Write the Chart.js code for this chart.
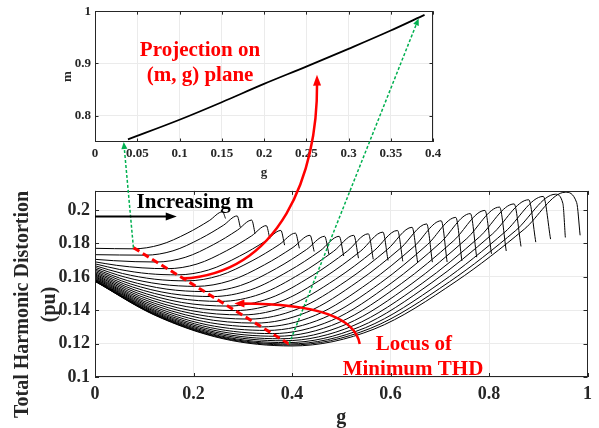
<!DOCTYPE html>
<html>
<head>
<meta charset="utf-8">
<script src="https://cdn.jsdelivr.net/npm/chart.js@4/dist/chart.umd.min.js"></script>
<style>
  html, body { margin: 0; padding: 0; background: #fff; }
  #page { position: relative; width: 599px; height: 428px; overflow: hidden; }
  #mainBox { position: absolute; left: 0; top: 176px; width: 599px; height: 252px; }
  #insetBox { position: absolute; left: 0; top: 0; width: 599px; height: 182px; }
  #overlay { position: absolute; left: 0; top: 0; pointer-events: none; }
</style>
</head>
<body>
<div id="page">
  <div id="mainBox"><canvas id="mainChart" width="599" height="252"></canvas></div>
  <div id="insetBox"><canvas id="insetChart" width="599" height="182"></canvas></div>
  <canvas id="overlay" width="599" height="428"></canvas>
</div>
<script>
// ---------- data ----------
const mainXTicks = [0, 0.2, 0.4, 0.6, 0.8, 1];
const mainXLabels = ['0', '0.2', '0.4', '0.6', '0.8', '1'];
const mainYTicks = [0.1, 0.12, 0.14, 0.16, 0.18, 0.2];
const mainYLabels = ['0.1', '0.12', '0.14', '0.16', '0.18', '0.2'];
const insetXTicks = [0, 0.05, 0.1, 0.15, 0.2, 0.25, 0.3, 0.35, 0.4];
const insetXLabels = ['0', '0.05', '0.1', '0.15', '0.2', '0.25', '0.3', '0.35', '0.4'];
const insetYTicks = [0.8, 0.9, 1];
const insetYLabels = ['0.8', '0.9', '1'];
const mainYTitle = ['Total Harmonic Distortion', '(pu)'];

// THD (pu) vs g, one curve per m value, lowest m first: [g, thd]
const thd01 = [[0,0.1771],[0.04,0.1769],[0.078,0.1768],[0.132,0.1792],[0.187,0.1861],[0.232,0.1937],[0.259,0.1990],[0.265,0.1950]];
const thd02 = [[0,0.1733],[0.05,0.1731],[0.1025,0.1730],[0.1583,0.1756],[0.2142,0.1829],[0.2607,0.1909],[0.2886,0.1965],[0.295,0.1897]];
const thd03 = [[0,0.1705],[0.0376,0.1697],[0.0814,0.1691],[0.1253,0.1689],[0.1832,0.1717],[0.2410,0.1794],[0.2893,0.1880],[0.3182,0.1940],[0.325,0.1860]];
const thd04 = [[0,0.1690],[0.0441,0.1669],[0.0955,0.1654],[0.1469,0.1649],[0.2072,0.1677],[0.2674,0.1757],[0.3177,0.1845],[0.3478,0.1907],[0.355,0.1829]];
const thd05 = [[0,0.1678],[0.0502,0.1644],[0.1088,0.1619],[0.1674,0.1612],[0.2304,0.1641],[0.2934,0.1724],[0.3459,0.1814],[0.3774,0.1878],[0.385,0.1790]];
const thd06 = [[0,0.1667],[0.0560,0.1620],[0.1214,0.1586],[0.1868,0.1576],[0.2529,0.1608],[0.3189,0.1696],[0.3740,0.1793],[0.407,0.1862],[0.415,0.1771]];
const thd07 = [[0,0.1657],[0.0615,0.1598],[0.1333,0.1556],[0.2050,0.1543],[0.2745,0.1577],[0.3440,0.1672],[0.4019,0.1776],[0.4366,0.1849],[0.445,0.1752]];
const thd08 = [[0,0.1648],[0.0666,0.1577],[0.1444,0.1527],[0.2221,0.1512],[0.2953,0.1548],[0.3686,0.1651],[0.4296,0.1764],[0.4662,0.1843],[0.475,0.1735]];
const thd09 = [[0,0.1640],[0.0716,0.1558],[0.1551,0.1499],[0.2386,0.1482],[0.3158,0.1522],[0.3929,0.1634],[0.4572,0.1756],[0.4958,0.1843],[0.505,0.1725]];
const thd10 = [[0,0.1632],[0.0764,0.1539],[0.1655,0.1473],[0.2546,0.1453],[0.3358,0.1497],[0.4171,0.1619],[0.4848,0.1754],[0.5254,0.1849],[0.535,0.1712]];
const thd11 = [[0,0.1625],[0.081,0.1521],[0.1755,0.1447],[0.2700,0.1425],[0.3555,0.1473],[0.441,0.1607],[0.5123,0.1754],[0.555,0.1858],[0.565,0.1705]];
const thd12 = [[0,0.1618],[0.0854,0.1504],[0.1851,0.1422],[0.2847,0.1398],[0.3747,0.1450],[0.4646,0.1595],[0.5396,0.1755],[0.5846,0.1868],[0.595,0.1698]];
const thd13 = [[0,0.1612],[0.0897,0.1487],[0.1944,0.1398],[0.2990,0.1372],[0.3936,0.1428],[0.4881,0.1585],[0.5669,0.1757],[0.6142,0.1878],[0.625,0.1693]];
const thd14 = [[0,0.1606],[0.0938,0.1471],[0.2033,0.1376],[0.3127,0.1347],[0.4120,0.1408],[0.5114,0.1578],[0.5941,0.1765],[0.6438,0.1897],[0.655,0.1689]];
const thd15 = [[0,0.1601],[0.0977,0.1456],[0.2118,0.1354],[0.3258,0.1323],[0.4301,0.1388],[0.5344,0.1573],[0.6213,0.1774],[0.6734,0.1917],[0.685,0.1688]];
const thd16 = [[0,0.1596],[0.1015,0.1442],[0.2199,0.1333],[0.3383,0.1300],[0.4477,0.1370],[0.5571,0.1567],[0.6483,0.1783],[0.703,0.1936],[0.715,0.1689]];
const thd17 = [[0,0.1591],[0.1049,0.1429],[0.2273,0.1313],[0.3497,0.1279],[0.4646,0.1354],[0.5794,0.1563],[0.6752,0.1794],[0.7326,0.1956],[0.745,0.1695]];
const thd18 = [[0,0.1587],[0.1080,0.1417],[0.2339,0.1296],[0.3599,0.1260],[0.4806,0.1339],[0.6013,0.1562],[0.7019,0.1806],[0.7622,0.1979],[0.775,0.1718]];
const thd19 = [[0,0.1583],[0.1107,0.1407],[0.2399,0.1281],[0.3690,0.1244],[0.4958,0.1327],[0.6227,0.1561],[0.7284,0.1817],[0.7918,0.1998],[0.805,0.1738]];
const thd20 = [[0,0.1580],[0.1131,0.1398],[0.2451,0.1268],[0.3770,0.1229],[0.5103,0.1316],[0.6436,0.1560],[0.7547,0.1829],[0.8214,0.2018],[0.835,0.1755]];
const thd21 = [[0,0.1578],[0.1152,0.1390],[0.2495,0.1257],[0.3839,0.1217],[0.5240,0.1307],[0.6642,0.1561],[0.7809,0.1840],[0.851,0.2037],[0.865,0.1782]];
const thd22 = [[0,0.1576],[0.1169,0.1384],[0.2532,0.1247],[0.3896,0.1206],[0.5369,0.1300],[0.6842,0.1566],[0.8070,0.1857],[0.8806,0.2062],[0.895,0.1808]];
const thd23 = [[0,0.1575],[0.1182,0.1379],[0.2562,0.1240],[0.3941,0.1198],[0.5489,0.1295],[0.7038,0.1569],[0.8328,0.1870],[0.9102,0.2082],[0.925,0.1826]];
const thd24 = [[0,0.1574],[0.1193,0.1375],[0.2584,0.1234],[0.3975,0.1192],[0.5588,0.1291],[0.72,0.1571],[0.8544,0.1878],[0.935,0.2095],[0.950,0.2040],[0.955,0.1836]];
const thd25 = [[0,0.1573],[0.1201,0.1372],[0.2602,0.1229],[0.4003,0.1186],[0.5667,0.1287],[0.7331,0.1573],[0.8718,0.1886],[0.955,0.2107],[0.978,0.2045],[0.985,0.1849]];
const thdCurves = [thd01, thd02, thd03, thd04, thd05, thd06, thd07, thd08, thd09, thd10,
  thd11, thd12, thd13, thd14, thd15, thd16, thd17, thd18, thd19, thd20,
  thd21, thd22, thd23, thd24, thd25];

// locus of minimum THD
const locusG = [0.078, 0.394];
const locusThd = [0.1775, 0.1198];

// projection on the (m, g) plane
const projG = [0.039, 0.1, 0.15, 0.2, 0.25, 0.3, 0.35, 0.39];
const projM = [0.755, 0.7925, 0.826, 0.861, 0.894, 0.928, 0.963, 0.993];

// ---------- annotation anchors (data units) ----------
const greenFromA = [0.078, 0.1775], greenToA = [0.034, 0.75];    // main -> inset
const greenFromB = [0.394, 0.1198], greenToB = [0.383, 0.986];   // main -> inset
const projArrowMain = [[0.1785, 0.159], [0.3753, 0.1625], [0.4523, 0.2208]]; // start + 2 controls (main)
const projArrowTip = [0.2627, 0.8787];                          // tip (inset)
const locusArrow = [[0.5375, 0.1198], [0.5274, 0.1374], [0.4361, 0.1439], [0.283, 0.1441]];
const incArrow = [[0, 0.1962], [0.166, 0.1962]];

// ---------- styling ----------
const FONT = '"Liberation Serif", "Times New Roman", serif';
const INK = '#262626';
const GRID = '#ebebeb';
const RED = '#ff0000';
const GREEN = '#00b050';

function setTicks(values) {
  return scale => { scale.ticks = values.map(v => ({ value: v })); };
}
function bold(size, lh) {
  return { family: FONT, size: size, weight: 'bold', lineHeight: lh || 1.1 };
}

// box round the plot plus inward tick marks on all four sides
const framePlugin = {
  id: 'frame',
  afterDatasetsDraw(chart, args, opts) {
    const { ctx, chartArea: a, scales } = chart;
    const len = opts.tick || 4;
    ctx.save();
    ctx.strokeStyle = INK;
    ctx.lineWidth = 1;
    ctx.beginPath();
    scales.x.ticks.forEach(t => {
      const x = Math.round(scales.x.getPixelForValue(t.value)) + 0.5;
      ctx.moveTo(x, a.bottom); ctx.lineTo(x, a.bottom - len);
      ctx.moveTo(x, a.top); ctx.lineTo(x, a.top + len);
    });
    scales.y.ticks.forEach(t => {
      const y = Math.round(scales.y.getPixelForValue(t.value)) + 0.5;
      ctx.moveTo(a.left, y); ctx.lineTo(a.left + len, y);
      ctx.moveTo(a.right, y); ctx.lineTo(a.right - len, y);
    });
    ctx.stroke();
    ctx.strokeRect(Math.round(a.left) + 0.5, Math.round(a.top) + 0.5,
      Math.round(a.right - a.left) - 1, Math.round(a.bottom - a.top) - 1);
    ctx.restore();
  }
};

// ---------- main chart ----------
const mainDatasets = [{
  data: locusG.map((g, i) => ({ x: g, y: locusThd[i] })),
  borderColor: RED, borderWidth: 3, borderDash: [7, 4], pointRadius: 0
}].concat(thdCurves.map(c => ({
  data: c.map(p => ({ x: p[0], y: p[1] })),
  borderColor: '#000', borderWidth: 1, pointRadius: 0,
  cubicInterpolationMode: 'monotone'
})));

const mainChart = new Chart(document.getElementById('mainChart'), {
  type: 'line',
  data: { datasets: mainDatasets },
  options: {
    responsive: false,
    animation: false,
    events: [],
    layout: { padding: { left: 0, right: 11, top: 10, bottom: 0 } },
    plugins: { legend: { display: false }, tooltip: { enabled: false }, frame: { tick: 4 } },
    scales: {
      x: {
        type: 'linear', min: 0, max: 1,
        afterBuildTicks: setTicks(mainXTicks),
        afterFit: s => { s.height = 51; },
        grid: { color: GRID, drawTicks: false },
        border: { display: false },
        ticks: { callback: (v, i) => mainXLabels[i], font: bold(18), color: INK, padding: 7, maxRotation: 0, autoSkip: false },
        title: { display: true, text: 'g', color: INK, font: bold(20, 1.2), padding: { top: 0, bottom: -2 } }
      },
      y: {
        type: 'linear', min: 0.1, max: 0.2115,
        afterBuildTicks: setTicks(mainYTicks),
        afterFit: s => { s.width = 95; },
        grid: { color: GRID, drawTicks: false },
        border: { display: false },
        ticks: { callback: (v, i) => mainYLabels[i], font: bold(18), color: INK, padding: 5, autoSkip: false },
        title: { display: false }
      }
    }
  },
  plugins: [framePlugin]
});

// ---------- inset chart ----------
const insetChart = new Chart(document.getElementById('insetChart'), {
  type: 'line',
  data: {
    datasets: [{
      data: projG.map((g, i) => ({ x: g, y: projM[i] })),
      borderColor: '#000', borderWidth: 1.8, pointRadius: 0,
      cubicInterpolationMode: 'monotone'
    }]
  },
  options: {
    responsive: false,
    animation: false,
    events: [],
    layout: { padding: { left: 0, right: 166, top: 8, bottom: 0 } },
    plugins: { legend: { display: false }, tooltip: { enabled: false }, frame: { tick: 3.5 } },
    scales: {
      x: {
        type: 'linear', min: 0, max: 0.4,
        afterBuildTicks: setTicks(insetXTicks),
        afterFit: s => { s.height = 40; },
        grid: { color: GRID, drawTicks: false },
        border: { display: false },
        ticks: { callback: (v, i) => insetXLabels[i], font: bold(13), color: INK, padding: 4, maxRotation: 0, autoSkip: false },
        title: { display: true, text: 'g', color: INK, font: bold(13, 1.2), padding: { top: 0, bottom: 2 } }
      },
      y: {
        type: 'linear', min: 0.75, max: 1,
        afterBuildTicks: setTicks(insetYTicks),
        afterFit: s => { s.width = 95; },
        grid: { color: GRID, drawTicks: false },
        border: { display: false },
        ticks: { callback: (v, i) => insetYLabels[i], font: bold(13), color: INK, padding: 4, autoSkip: false },
        title: { display: true, text: 'm', color: INK, font: bold(13, 1.2), padding: { top: 60, bottom: 0 } }
      }
    }
  },
  plugins: [framePlugin]
});

// ---------- overlay: arrows and notes ----------
const mainTop = document.getElementById('mainBox').offsetTop;
const insetTop = document.getElementById('insetBox').offsetTop;
function onMain(p) {
  return [mainChart.scales.x.getPixelForValue(p[0]), mainTop + mainChart.scales.y.getPixelForValue(p[1])];
}
function onInset(p) {
  return [insetChart.scales.x.getPixelForValue(p[0]), insetTop + insetChart.scales.y.getPixelForValue(p[1])];
}

const ov = document.getElementById('overlay').getContext('2d');

function head(tip, from, len, half, color) {
  const ang = Math.atan2(tip[1] - from[1], tip[0] - from[0]);
  const c = Math.cos(ang), s = Math.sin(ang);
  ov.save();
  ov.setLineDash([]);
  ov.fillStyle = color;
  ov.beginPath();
  ov.moveTo(tip[0], tip[1]);
  ov.lineTo(tip[0] - len * c + half * s, tip[1] - len * s - half * c);
  ov.lineTo(tip[0] - len * c - half * s, tip[1] - len * s + half * c);
  ov.closePath();
  ov.fill();
  ov.restore();
}
function back(tip, from, len) {
  const d = Math.hypot(tip[0] - from[0], tip[1] - from[1]);
  return [tip[0] - (tip[0] - from[0]) * len / d, tip[1] - (tip[1] - from[1]) * len / d];
}

function straightArrow(a, b, color, width, dash, len, half) {
  const end = back(b, a, len * 0.8);
  ov.save();
  ov.strokeStyle = color;
  ov.lineWidth = width;
  ov.setLineDash(dash);
  ov.beginPath();
  ov.moveTo(a[0], a[1]);
  ov.lineTo(end[0], end[1]);
  ov.stroke();
  ov.restore();
  head(b, a, len, half, color);
}

function curvedArrow(p0, p1, p2, p3, color, width, len, half) {
  const end = back(p3, p2, len * 0.8);
  ov.save();
  ov.strokeStyle = color;
  ov.lineWidth = width;
  ov.beginPath();
  ov.moveTo(p0[0], p0[1]);
  ov.bezierCurveTo(p1[0], p1[1], p2[0], p2[1], end[0], end[1]);
  ov.stroke();
  ov.restore();
  head(p3, p2, len, half, color);
}

// green dotted projections
straightArrow(onMain(greenFromA), onInset(greenToA), GREEN, 1.5, [3, 2], 7, 3);
straightArrow(onMain(greenFromB), onInset(greenToB), GREEN, 1.5, [3, 2], 7, 3);

// red projection arrow
curvedArrow(onMain(projArrowMain[0]), onMain(projArrowMain[1]), onMain(projArrowMain[2]),
  onInset(projArrowTip), RED, 2.5, 11, 4);

// red locus arrow
curvedArrow(onMain(locusArrow[0]), onMain(locusArrow[1]), onMain(locusArrow[2]),
  onMain(locusArrow[3]), RED, 2.5, 10, 4);

// black "increasing m" arrow
straightArrow(onMain(incArrow[0]), onMain(incArrow[1]), '#000', 2, [], 11, 4);

// notes
function note(text, p, color) {
  ov.save();
  ov.font = 'bold 21px ' + FONT;
  ov.fillStyle = color;
  ov.textAlign = 'center';
  ov.textBaseline = 'alphabetic';
  ov.fillText(text, p[0], p[1]);
  ov.restore();
}
note('Increasing m', onMain([0.203, 0.2014]), '#000');
note('Projection on', onInset([0.1243, 0.9136]), RED);
note('(m, g) plane', onInset([0.1243, 0.8668]), RED);
note('Locus of', onMain([0.6475, 0.1159]), RED);
note('Minimum THD', onMain([0.6457, 0.1013]), RED);

// main y-axis title, two rotated lines centred a little below the plot middle
(function () {
  const cy = onMain([0, 0.1435])[1];
  ov.save();
  ov.font = 'bold 20px ' + FONT;
  ov.fillStyle = INK;
  ov.textAlign = 'center';
  ov.textBaseline = 'middle';
  ov.translate(0, cy);
  ov.rotate(-Math.PI / 2);
  ov.fillText(mainYTitle[0], 0, 23);
  ov.fillText(mainYTitle[1], 0, 50);
  ov.restore();
})();
</script>
</body>
</html>
